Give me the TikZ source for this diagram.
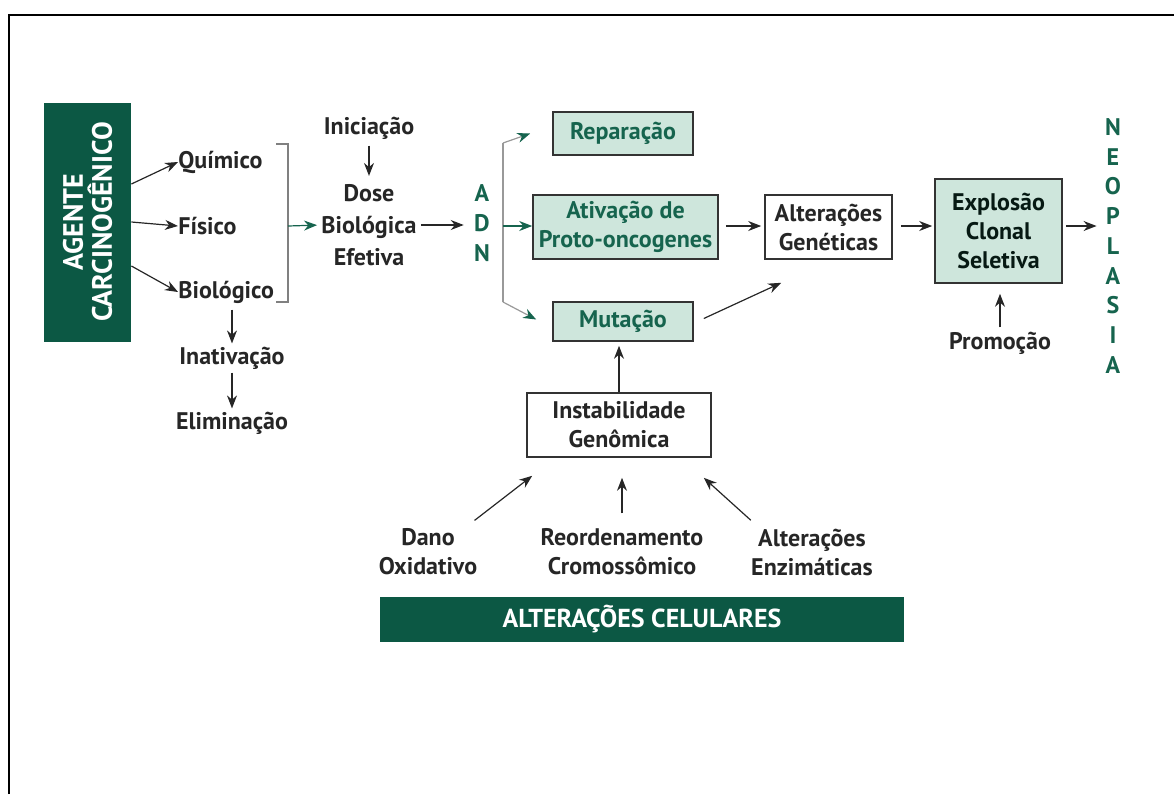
\documentclass[tikz,border=0pt]{standalone}
\usepackage{fontspec}
\setmainfont{PT Sans}
\usetikzlibrary{arrows.meta, positioning}
\definecolor{darkgreen}{RGB}{12,88,68}
\definecolor{textgreen}{RGB}{22,100,78}
\definecolor{palegreen}{RGB}{206,230,220}

\begin{document}
\begin{tikzpicture}[x=0.5pt, y=-0.5pt,
    txt/.style={font=\bfseries\fontsize{12}{14.5}\selectfont, align=center, inner sep=0pt, text=black!85},
    greenbox/.style={txt, draw=black!80, fill=palegreen, text=textgreen, line width=0.8pt},
    whitebox/.style={txt, draw=black!80, fill=white, line width=0.8pt},
    banner/.style={fill=darkgreen, text=white, font=\bfseries\fontsize{13}{13.5}\selectfont, align=center, inner sep=0pt},
    letters/.style={font=\bfseries\fontsize{12}{15}\selectfont, align=center, text=textgreen, inner sep=0pt},
    arr/.style={-{Stealth[length=6.5pt, width=5pt]}, line width=0.6pt, black!85},
    garr/.style={-{Stealth[length=6.5pt, width=5pt]}, line width=0.6pt, textgreen},
    branch/.style={-{Stealth[length=6.5pt, width=5pt, color=textgreen]}, line width=0.6pt, gray!80}
]
\useasboundingbox (0,0) rectangle (1174,794);

% --- moldura ---
\draw[line width=1pt] (9,794) -- (9,15) -- (1174,15);

% --- agente carcinogenico ---
\node[banner, minimum width=43.5pt, minimum height=119.5pt] (agente) at (87.5,222) {};
\node[banner, rotate=90, fill=none, font=\bfseries\fontsize{14}{14.5}\selectfont] (agentetxt) at (agente.center) {AGENTE\\CARCINOGÊNICO};

\node[txt, anchor=west] (quimico) at (178,162) {Químico};
\node[txt, anchor=west] (fisico) at (178,226) {Físico};
\node[txt, anchor=west] (biologico) at (178,292) {Biológico};

\draw[arr] ([yshift=19pt]agente.east) -- (quimico.west);
\draw[arr] (agente.east) -- (fisico.west);
\draw[arr] ([yshift=-22pt]agente.east) -- (biologico.west);

\node[txt] (inativacao) at (232,358) {Inativação};
\node[txt] (eliminacao) at (232,423) {Eliminação};
\draw[arr, shorten <=3pt, shorten >=1.5pt] (biologico.south -| inativacao) -- (inativacao);
\draw[arr, shorten <=1.5pt, shorten >=1.5pt] (inativacao) -- (eliminacao);

% --- colchete e dose ---
\draw[gray, line width=0.7pt] (276,144) -- (288,144) -- (288,302) -- (276,302);
\coordinate (brk) at (288,226);

\node[txt, font=\bfseries\fontsize{12}{16}\selectfont] (dose) at (369,225) {Dose\\Biológica\\Efetiva};
\node[txt] (iniciacao) at (369,128) {Iniciação};
\draw[garr, shorten >=2pt] (brk) -- (dose.west);
\draw[arr, shorten <=3pt, shorten >=4pt] (iniciacao) -- (dose);

\node[letters] (adn) at (482,223) {A\\D\\N};
\draw[arr, shorten <=2pt, shorten >=5pt] (dose.east) -- (dose.east -| adn.west);

% --- ramificacao do ADN ---
\node[greenbox, minimum width=70pt, minimum height=21.5pt] (reparacao) at (623,133.5) {Reparação};
\node[greenbox, minimum width=92.5pt, minimum height=32pt] (ativacao) at (625.5,227) {Ativação de\\Proto-oncogenes};
\node[greenbox, minimum width=70pt, minimum height=19.5pt] (mutacao) at (623,321.5) {Mutação};

\coordinate (br) at (503,226);
\coordinate (brtop) at (503,143);
\coordinate (brbot) at (503,302);
\draw[gray!80, line width=0.6pt] (brtop) -- (brbot);
\draw[branch] (brtop) -- ([xshift=-11pt]reparacao.west);
\draw[branch] (brbot) -- ([xshift=-8pt, yshift=1pt]mutacao.west);
\draw[garr] (br) -- (br -| ativacao.west);

% --- alteracoes geneticas e explosao clonal ---
\node[whitebox, minimum width=63.5pt, minimum height=32pt] (altgen) at (828.5,227) {Alterações\\Genéticas};
\node[greenbox, text=black!75!textgreen, minimum width=63.5pt, minimum height=52pt] (explosao) at (998.5,231) {Explosão\\Clonal\\Seletiva};
\node[letters, font=\bfseries\fontsize{12}{14.875}\selectfont] (neoplasia) at (1113,246) {N\\E\\O\\P\\L\\A\\S\\I\\A};
\node[txt] (promocao) at (1000,343) {Promoção};

\draw[arr, shorten <=3.5pt, shorten >=1.5pt] (br -| ativacao.east) -- (br -| altgen.west);
\draw[arr] ([xshift=5pt, yshift=1.5pt]mutacao.east) -- ([xshift=8.5pt, yshift=-11.5pt]altgen.south west);
\draw[arr, shorten <=4pt, shorten >=1pt] (br -| altgen.east) -- (br -| explosao.west);
\draw[arr, shorten <=1.5pt, shorten >=4pt] (br -| explosao.east) -- (br -| neoplasia.west);
\draw[arr, shorten <=2pt, shorten >=5pt] (promocao) -- (promocao |- explosao.south);

% --- instabilidade genomica ---
\node[whitebox, minimum width=92pt, minimum height=32pt] (instab) at (619,425) {Instabilidade\\Genômica};
\draw[arr, shorten >=2pt] (instab.north) -- (instab.north |- mutacao.south);

\node[txt] (dano) at (428,552) {Dano\\Oxidativo};
\node[txt] (reord) at (622,552) {Reordenamento\\Cromossômico};
\node[txt] (enzim) at (812,552) {Alterações\\Enzimáticas};

\draw[arr] ([xshift=-1.5pt, yshift=4pt]dano.north east) -- ([xshift=3pt, yshift=-9pt]instab.south west);
\draw[arr, shorten <=7.5pt, shorten >=10pt] (reord.north) -- (reord.north |- instab.south);
\draw[arr] ([yshift=4pt]enzim.north west) -- ([xshift=-4pt, yshift=-10pt]instab.south east);

% --- alteracoes celulares ---
\node[banner, minimum width=262pt, minimum height=22.5pt] (celulares) at (642,619.5) {ALTERAÇÕES CELULARES};

\end{tikzpicture}
\end{document}
